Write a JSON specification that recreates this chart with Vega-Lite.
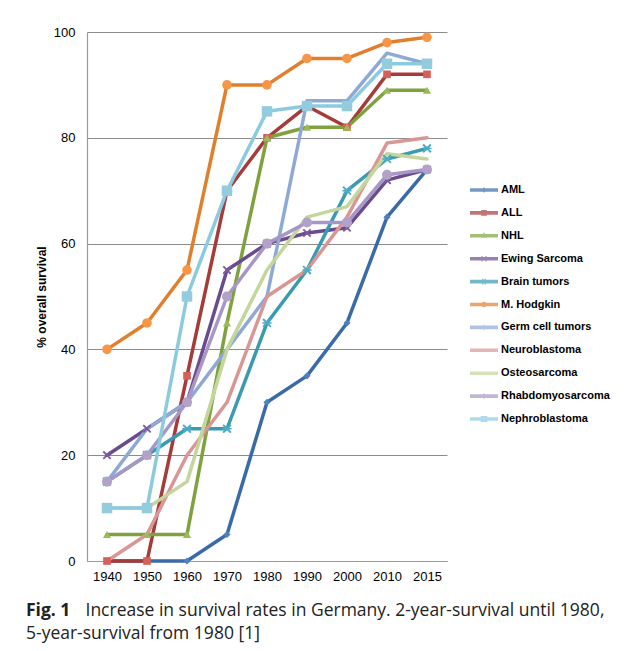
{
  "$schema": "https://vega.github.io/schema/vega-lite/v6.json",
  "width": 360,
  "height": 529,
  "autosize": {"type": "none"},
  "padding": {"left": 87, "top": 32, "right": 178, "bottom": 90},
  "background": "white",
  "datasets": {
    "survival": [
      {"series": "AML", "year": "1940", "value": 0}, {"series": "AML", "year": "1950", "value": 0}, {"series": "AML", "year": "1960", "value": 0}, {"series": "AML", "year": "1970", "value": 5}, {"series": "AML", "year": "1980", "value": 30}, {"series": "AML", "year": "1990", "value": 35}, {"series": "AML", "year": "2000", "value": 45}, {"series": "AML", "year": "2010", "value": 65}, {"series": "AML", "year": "2015", "value": 74},
      {"series": "ALL", "year": "1940", "value": 0}, {"series": "ALL", "year": "1950", "value": 0}, {"series": "ALL", "year": "1960", "value": 35}, {"series": "ALL", "year": "1970", "value": 70}, {"series": "ALL", "year": "1980", "value": 80}, {"series": "ALL", "year": "1990", "value": 86}, {"series": "ALL", "year": "2000", "value": 82}, {"series": "ALL", "year": "2010", "value": 92}, {"series": "ALL", "year": "2015", "value": 92},
      {"series": "NHL", "year": "1940", "value": 5}, {"series": "NHL", "year": "1950", "value": 5}, {"series": "NHL", "year": "1960", "value": 5}, {"series": "NHL", "year": "1970", "value": 45}, {"series": "NHL", "year": "1980", "value": 80}, {"series": "NHL", "year": "1990", "value": 82}, {"series": "NHL", "year": "2000", "value": 82}, {"series": "NHL", "year": "2010", "value": 89}, {"series": "NHL", "year": "2015", "value": 89},
      {"series": "Ewing Sarcoma", "year": "1940", "value": 20}, {"series": "Ewing Sarcoma", "year": "1950", "value": 25}, {"series": "Ewing Sarcoma", "year": "1960", "value": 30}, {"series": "Ewing Sarcoma", "year": "1970", "value": 55}, {"series": "Ewing Sarcoma", "year": "1980", "value": 60}, {"series": "Ewing Sarcoma", "year": "1990", "value": 62}, {"series": "Ewing Sarcoma", "year": "2000", "value": 63}, {"series": "Ewing Sarcoma", "year": "2010", "value": 72}, {"series": "Ewing Sarcoma", "year": "2015", "value": 74},
      {"series": "Brain tumors", "year": "1940", "value": 15}, {"series": "Brain tumors", "year": "1950", "value": 20}, {"series": "Brain tumors", "year": "1960", "value": 25}, {"series": "Brain tumors", "year": "1970", "value": 25}, {"series": "Brain tumors", "year": "1980", "value": 45}, {"series": "Brain tumors", "year": "1990", "value": 55}, {"series": "Brain tumors", "year": "2000", "value": 70}, {"series": "Brain tumors", "year": "2010", "value": 76}, {"series": "Brain tumors", "year": "2015", "value": 78},
      {"series": "M. Hodgkin", "year": "1940", "value": 40}, {"series": "M. Hodgkin", "year": "1950", "value": 45}, {"series": "M. Hodgkin", "year": "1960", "value": 55}, {"series": "M. Hodgkin", "year": "1970", "value": 90}, {"series": "M. Hodgkin", "year": "1980", "value": 90}, {"series": "M. Hodgkin", "year": "1990", "value": 95}, {"series": "M. Hodgkin", "year": "2000", "value": 95}, {"series": "M. Hodgkin", "year": "2010", "value": 98}, {"series": "M. Hodgkin", "year": "2015", "value": 99},
      {"series": "Germ cell tumors", "year": "1940", "value": 15}, {"series": "Germ cell tumors", "year": "1950", "value": 25}, {"series": "Germ cell tumors", "year": "1960", "value": 30}, {"series": "Germ cell tumors", "year": "1970", "value": 40}, {"series": "Germ cell tumors", "year": "1980", "value": 50}, {"series": "Germ cell tumors", "year": "1990", "value": 87}, {"series": "Germ cell tumors", "year": "2000", "value": 87}, {"series": "Germ cell tumors", "year": "2010", "value": 96}, {"series": "Germ cell tumors", "year": "2015", "value": 94},
      {"series": "Neuroblastoma", "year": "1940", "value": 0}, {"series": "Neuroblastoma", "year": "1950", "value": 5}, {"series": "Neuroblastoma", "year": "1960", "value": 20}, {"series": "Neuroblastoma", "year": "1970", "value": 30}, {"series": "Neuroblastoma", "year": "1980", "value": 50}, {"series": "Neuroblastoma", "year": "1990", "value": 55}, {"series": "Neuroblastoma", "year": "2000", "value": 65}, {"series": "Neuroblastoma", "year": "2010", "value": 79}, {"series": "Neuroblastoma", "year": "2015", "value": 80},
      {"series": "Osteosarcoma", "year": "1940", "value": 10}, {"series": "Osteosarcoma", "year": "1950", "value": 10}, {"series": "Osteosarcoma", "year": "1960", "value": 15}, {"series": "Osteosarcoma", "year": "1970", "value": 40}, {"series": "Osteosarcoma", "year": "1980", "value": 55}, {"series": "Osteosarcoma", "year": "1990", "value": 65}, {"series": "Osteosarcoma", "year": "2000", "value": 67}, {"series": "Osteosarcoma", "year": "2010", "value": 77}, {"series": "Osteosarcoma", "year": "2015", "value": 76},
      {"series": "Rhabdomyosarcoma", "year": "1940", "value": 15}, {"series": "Rhabdomyosarcoma", "year": "1950", "value": 20}, {"series": "Rhabdomyosarcoma", "year": "1960", "value": 30}, {"series": "Rhabdomyosarcoma", "year": "1970", "value": 50}, {"series": "Rhabdomyosarcoma", "year": "1980", "value": 60}, {"series": "Rhabdomyosarcoma", "year": "1990", "value": 64}, {"series": "Rhabdomyosarcoma", "year": "2000", "value": 64}, {"series": "Rhabdomyosarcoma", "year": "2010", "value": 73}, {"series": "Rhabdomyosarcoma", "year": "2015", "value": 74},
      {"series": "Nephroblastoma", "year": "1940", "value": 10}, {"series": "Nephroblastoma", "year": "1950", "value": 10}, {"series": "Nephroblastoma", "year": "1960", "value": 50}, {"series": "Nephroblastoma", "year": "1970", "value": 70}, {"series": "Nephroblastoma", "year": "1980", "value": 85}, {"series": "Nephroblastoma", "year": "1990", "value": 86}, {"series": "Nephroblastoma", "year": "2000", "value": 86}, {"series": "Nephroblastoma", "year": "2010", "value": 94}, {"series": "Nephroblastoma", "year": "2015", "value": 94}
    ]
  },
  "data": {"name": "survival"},
  "title": {
    "text": "Fig. 1",
    "subtitle": "5-year-survival from 1980 [1]",
    "orient": "bottom",
    "anchor": "start",
    "frame": "group",
    "dx": -61,
    "offset": -17,
    "font": "Open Sans",
    "fontSize": 17.5,
    "fontWeight": "bold",
    "color": "#222222",
    "subtitleFont": "Open Sans",
    "subtitleFontSize": 17.5,
    "subtitleFontWeight": "normal",
    "subtitleColor": "#222222",
    "subtitlePadding": 6
  },
  "layer": [
    {
      "mark": {"type": "line", "strokeWidth": 3.5, "strokeJoin": "round", "strokeCap": "round"},
      "encoding": {
        "x": {
          "field": "year", "type": "ordinal", "sort": null,
          "axis": {
            "labelAngle": 0, "labelPadding": 9, "labelFont": "Liberation Sans", "labelFontSize": 13, "labelColor": "#000000",
            "domainColor": "#9a9a9a", "domainWidth": 1.2, "ticks": false, "grid": false,
            "title": "Increase in survival rates in Germany. 2-year-survival until 1980,",
            "titleX": -2, "titleY": 54, "titleAlign": "left", "titleBaseline": "alphabetic", "titleAngle": 0,
            "titleFont": "Open Sans", "titleFontSize": 17.5, "titleFontWeight": "normal", "titleColor": "#222222"
          }
        },
        "y": {
          "field": "value", "type": "quantitative",
          "scale": {"domain": [0, 100], "nice": false},
          "axis": {
            "values": [0, 20, 40, 60, 80, 100], "labelPadding": 12, "labelFont": "Liberation Sans", "labelFontSize": 13, "labelColor": "#000000",
            "domainColor": "#9a9a9a", "domainWidth": 1.2, "ticks": false, "grid": true, "gridColor": "#8c8c8c", "gridWidth": 1.2,
            "title": "% overall survival", "titleFont": "Liberation Sans", "titleFontSize": 12, "titleFontWeight": "bold", "titleColor": "#000000", "titlePadding": 5
          }
        },
        "color": {
          "field": "series", "type": "nominal", "legend": null,
          "scale": {
            "domain": ["AML", "ALL", "NHL", "Ewing Sarcoma", "Brain tumors", "M. Hodgkin", "Germ cell tumors", "Neuroblastoma", "Osteosarcoma", "Rhabdomyosarcoma", "Nephroblastoma"],
            "range": ["#3a6ba8", "#a63c3a", "#7fa23e", "#6a4b8e", "#3a9ab0", "#e07f2c", "#8ea9d6", "#d99694", "#c3d69b", "#a797c7", "#8ccbdf"]
          }
        }
      }
    },
    {
      "transform": [{"filter": {"field": "series", "oneOf": ["AML", "ALL", "NHL", "Ewing Sarcoma", "Brain tumors", "M. Hodgkin", "Rhabdomyosarcoma", "Nephroblastoma"]}}],
      "mark": {"type": "point", "filled": true, "opacity": 1, "strokeWidth": 0},
      "encoding": {
        "x": {"field": "year", "type": "ordinal", "sort": null},
        "y": {"field": "value", "type": "quantitative"},
        "fill": {
          "field": "series", "type": "nominal", "legend": null,
          "scale": {
            "domain": ["AML", "ALL", "NHL", "Ewing Sarcoma", "Brain tumors", "M. Hodgkin", "Rhabdomyosarcoma", "Nephroblastoma"],
            "range": ["#4f81bd", "#d65f5a", "#9bbb59", "#7a5a9e", "#4bacc6", "#f79646", "#b3a2c7", "#93cddd"]
          }
        },
        "shape": {
          "field": "series", "type": "nominal", "legend": null,
          "scale": {
            "domain": ["AML", "ALL", "NHL", "Ewing Sarcoma", "Brain tumors", "M. Hodgkin", "Rhabdomyosarcoma", "Nephroblastoma"],
            "range": ["diamond", "square", "triangle-up",
              "M-1,-0.7L-0.7,-1L0,-0.3L0.7,-1L1,-0.7L0.3,0L1,0.7L0.7,1L0,0.3L-0.7,1L-1,0.7L-0.3,0Z",
              "M-1,-0.7L-0.7,-1L0,-0.3L0.7,-1L1,-0.7L0.3,0L1,0.7L0.7,1L0,0.3L-0.7,1L-1,0.7L-0.3,0Z M-1,-0.15H1V0.15H-1Z",
              "circle", "circle", "square"]
          }
        },
        "size": {
          "field": "series", "type": "nominal", "legend": null,
          "scale": {
            "domain": ["AML", "ALL", "NHL", "Ewing Sarcoma", "Brain tumors", "M. Hodgkin", "Rhabdomyosarcoma", "Nephroblastoma"],
            "range": [50, 110, 100, 80, 90, 150, 75, 150]
          }
        }
      }
    },
    {
      "transform": [{"filter": "false"}],
      "mark": {"type": "point", "filled": true, "strokeWidth": 0},
      "encoding": {
        "x": {"field": "year", "type": "ordinal", "sort": null},
        "y": {"field": "value", "type": "quantitative"},
        "color": {
          "field": "series", "type": "nominal",
          "legend": {"title": null},
          "scale": {
            "domain": ["AML", "ALL", "NHL", "Ewing Sarcoma", "Brain tumors", "M. Hodgkin", "Germ cell tumors", "Neuroblastoma", "Osteosarcoma", "Rhabdomyosarcoma", "Nephroblastoma"],
            "range": ["#3a6ba8", "#a63c3a", "#7fa23e", "#6a4b8e", "#3a9ab0", "#e07f2c", "#8ea9d6", "#d99694", "#c3d69b", "#a797c7", "#8ccbdf"]
          }
        },
        "shape": {
          "field": "series", "type": "nominal",
          "legend": {"title": null},
          "scale": {
            "domain": ["AML", "ALL", "NHL", "Ewing Sarcoma", "Brain tumors", "M. Hodgkin", "Germ cell tumors", "Neuroblastoma", "Osteosarcoma", "Rhabdomyosarcoma", "Nephroblastoma"],
            "range": [
              "M-1,-0.13H1V0.13H-1Z M0,-0.2L0.2,0L0,0.2L-0.2,0Z",
              "M-1,-0.13H1V0.13H-1Z M-0.2,-0.2H0.2V0.2H-0.2Z",
              "M-1,-0.13H1V0.13H-1Z M0,-0.26L0.22,0.14H-0.22Z",
              "M-1,-0.13H1V0.13H-1Z M-0.18,-0.2H-0.1V0.2H-0.18Z M0.1,-0.2H0.18V0.2H0.1Z",
              "M-1,-0.13H1V0.13H-1Z M-0.14,-0.2H-0.08V0.2H-0.14Z M-0.03,-0.2H0.03V0.2H-0.03Z M0.08,-0.2H0.14V0.2H0.08Z",
              "M-1,-0.13H1V0.13H-1Z M-0.2,0A0.2,0.2 0 1,1 0.2,0A0.2,0.2 0 1,1 -0.2,0Z",
              "M-1,-0.13H1V0.13H-1Z M-0.03,-0.2H0.03V0.2H-0.03Z",
              "M-1,-0.13H1V0.13H-1Z",
              "M-1,-0.13H1V0.13H-1Z",
              "M-1,-0.13H1V0.13H-1Z M0,-0.2L0.2,0L0,0.2L-0.2,0Z",
              "M-1,-0.13H1V0.13H-1Z M-0.24,-0.22H0.24V0.22H-0.24Z"
            ]
          }
        }
      }
    }
  ],
  "resolve": {"scale": {"shape": "independent", "color": "independent"}},
  "config": {
    "view": {"stroke": null},
    "font": "Liberation Sans",
    "legend": {
      "orient": "none", "legendX": 383, "legendY": 150, "padding": 0,
      "symbolSize": 784, "symbolStrokeWidth": 0, "clipHeight": 16, "rowPadding": 6.9,
      "labelFont": "Liberation Sans", "labelFontSize": 11, "labelFontWeight": "bold", "labelColor": "#000000", "labelOffset": 3
    }
  }
}
